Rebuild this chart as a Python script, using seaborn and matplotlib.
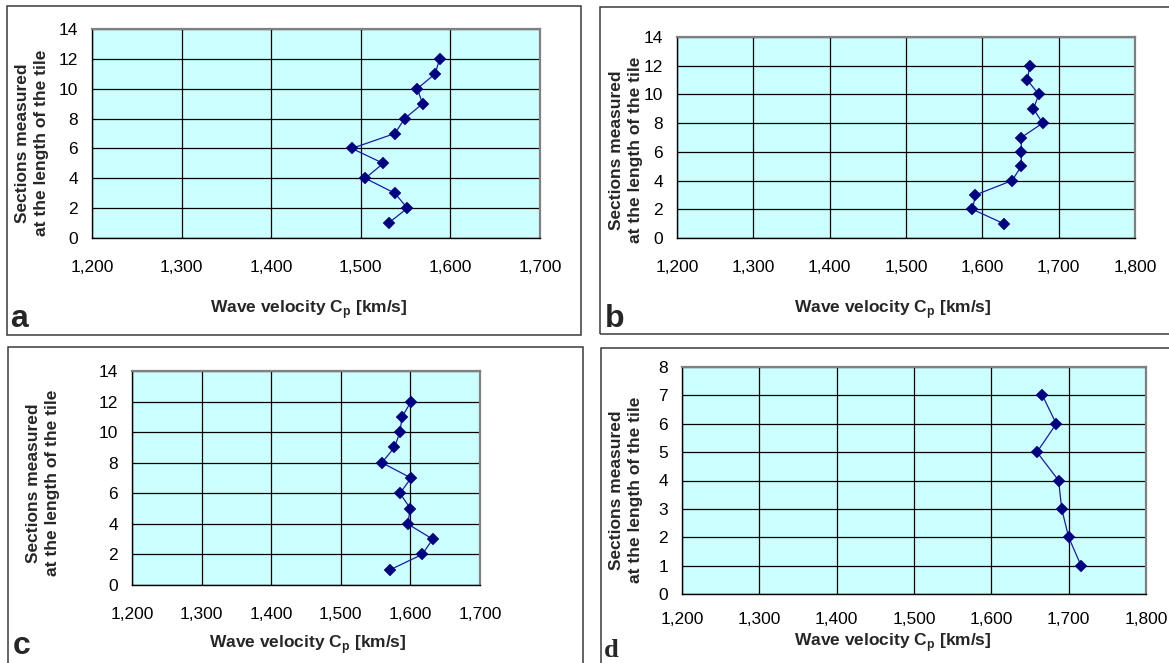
import matplotlib
matplotlib.use("Agg")
import matplotlib.pyplot as plt
from matplotlib.patches import Rectangle
from matplotlib.ticker import FuncFormatter, MultipleLocator
import seaborn as sns
import pandas as pd

# ---- data ----
sections_a = [12, 11, 10, 9, 8, 7, 6, 5, 4, 3, 2, 1]
velocity_a = [1588, 1583, 1563, 1569, 1549, 1538, 1490, 1525, 1505, 1538, 1552, 1531]

sections_b = [12, 11, 10, 9, 8, 7, 6, 5, 4, 3, 2, 1]
velocity_b = [1662, 1659, 1674, 1667, 1679, 1651, 1651, 1651, 1639, 1591, 1587, 1628]

sections_c = [12, 11, 10, 9, 8, 7, 6, 5, 4, 3, 2, 1]
velocity_c = [1601, 1588, 1585, 1577, 1559, 1601, 1585, 1600, 1596, 1632, 1617, 1571]

sections_d = [7, 6, 5, 4, 3, 2, 1]
velocity_d = [1666, 1684, 1659, 1687, 1691, 1700, 1716]

xlims = {"a": (1200, 1700), "b": (1200, 1800), "c": (1200, 1700), "d": (1200, 1800)}
ylims = {"a": (0, 14), "b": (0, 14), "c": (0, 14), "d": (0, 8)}
ysteps = {"a": 2, "b": 2, "c": 2, "d": 1}

ylabel_text = "Sections measured\nat the length of the tile"
xlabel_text = r"Wave velocity C$_\mathbf{p}$ [km/s]"

sns.set_style("white")
plt.rcParams["font.family"] = ["Liberation Sans", "DejaVu Sans"]
plt.rcParams["mathtext.fontset"] = "custom"
plt.rcParams["mathtext.rm"] = "Liberation Sans"
plt.rcParams["mathtext.bf"] = "Liberation Sans:bold"

W, H = 1169, 663
fig = plt.figure(figsize=(W / 100, H / 100), dpi=100)
fig.patch.set_facecolor("white")

def fx(px):
    return px / W

def fy(py):
    return 1 - py / H

# frames (pixel coords: left, top, right, bottom)
frames = [(7, 6, 581, 335), (600, 7, 1180, 334), (8, 347, 583, 680), (601, 348, 1180, 680)]
for l, t, r, b in frames:
    fig.patches.append(Rectangle((fx(l), fy(b)), fx(r - l), fy(t) - fy(b),
                                 transform=fig.transFigure, fill=False,
                                 edgecolor="#3a3a3a", linewidth=1.1, zorder=0))

panels = [
    ("a", sections_a, velocity_a, (92, 29, 540, 238), (32, 143), (309, 310), (10, 327), "sans", 12),
    ("b", sections_b, velocity_b, (677, 37, 1135, 238), (626, 150), (893, 310), (605, 327), "sans", 12),
    ("c", sections_c, velocity_c, (132, 371, 480, 585), (43, 483), (308, 645), (13, 654), "sans", 12),
    ("d", sections_d, velocity_d, (682, 367, 1146, 594), (626, 490), (893, 643), (604, 657), "serif", 9),
]

for key, secs, vel, (l, t, r, b), ylc, xlc, letpos, letfont, pad in panels:
    ax = fig.add_axes([fx(l), fy(b), fx(r - l), fy(t) - fy(b)])
    ax.set_facecolor("#CCFFFF")
    df = pd.DataFrame({"velocity": vel, "section": secs})
    sns.lineplot(data=df, x="velocity", y="section", sort=False, estimator=None, ax=ax,
                 color="#1a1aa8", linewidth=0.9, marker="D", markersize=6.5,
                 markerfacecolor="#000080", markeredgecolor="#000080",
                 markeredgewidth=0.3, zorder=5)
    ax.set_xlim(*xlims[key])
    ax.set_ylim(*ylims[key])
    ax.xaxis.set_major_locator(MultipleLocator(100))
    ax.yaxis.set_major_locator(MultipleLocator(ysteps[key]))
    ax.xaxis.set_major_formatter(FuncFormatter(lambda v, p: f"{v:,.0f}"))
    ax.grid(True, color="black", linewidth=0.9)
    ax.set_axisbelow(True)
    for s in ["top", "right"]:
        ax.spines[s].set_color("#808080")
        ax.spines[s].set_linewidth(1.6)
    for s in ["left", "bottom"]:
        ax.spines[s].set_color("black")
        ax.spines[s].set_linewidth(1.0)
    ax.tick_params(axis="both", direction="out", length=4, width=1, color="black",
                   labelsize=12.5, labelcolor="black")
    ax.tick_params(axis="x", pad=pad)
    ax.tick_params(axis="y", pad=6)
    ax.set_xlabel("")
    ax.set_ylabel("")

    fig.text(fx(ylc[0]), fy(ylc[1]), ylabel_text, rotation=90, ha="center", va="center",
             multialignment="center", fontsize=12.5, fontweight="bold", linespacing=1.3)
    fig.text(fx(xlc[0]), fy(xlc[1]), xlabel_text, ha="center", va="center",
             fontsize=12.5, fontweight="bold")
    if letfont == "sans":
        fig.text(fx(letpos[0]), fy(letpos[1]), key, ha="left", va="baseline",
                 fontsize=23, fontweight="bold")
    else:
        fig.text(fx(letpos[0]), fy(letpos[1]), key, ha="left", va="baseline",
                 fontsize=19, fontweight="bold", family=["Liberation Serif", "DejaVu Serif"])

fig.savefig("out.png", dpi=100, facecolor="white")
